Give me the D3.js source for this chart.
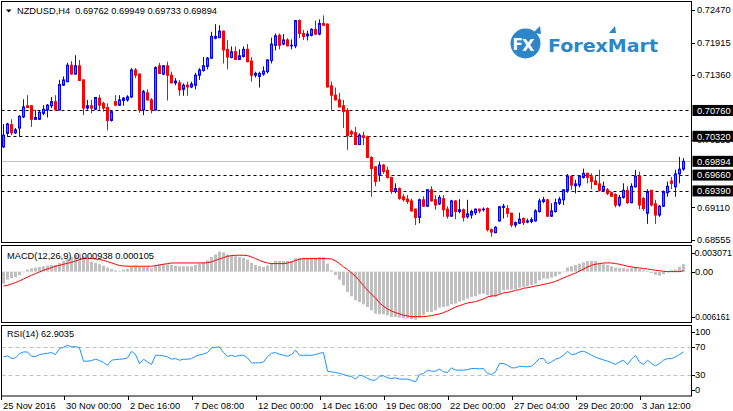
<!DOCTYPE html>
<html><head><meta charset="utf-8">
<script src="https://cdn.jsdelivr.net/npm/d3@7"></script>
<style>html,body{margin:0;padding:0;background:#fff;}svg{display:block;}</style>
</head><body>
<script>
// ---------------- DATA ----------------
const chartTitle = "NZDUSD,H4";
const titleValues = "0.69762 0.69949 0.69733 0.69894";
const macdTitle = "MACD(12,26,9) 0.000938 0.000105";
const rsiTitle = "RSI(14) 62.9035";

const open = [
0.7014,0.7037,0.7052,0.7038,0.7046,0.7065,0.7084,0.7084,0.7061,0.7061,
0.7071,0.7077,0.7084,0.7091,0.7077,0.7119,0.7125,0.7153,0.7138,0.7152,
0.7128,0.7080,0.7084,0.7078,0.7097,0.7088,0.7081,0.7059,0.7091,0.7085,
0.7093,0.7094,0.7099,0.7145,0.7138,0.7077,0.7106,0.7094,0.7077,0.7152,
0.7138,0.7152,0.7136,0.7123,0.7123,0.7112,0.7119,0.7116,0.7119,0.7136,
0.7144,0.7151,0.7165,0.7199,0.7200,0.7211,0.7180,0.7166,0.7176,0.7163,
0.7168,0.7180,0.7160,0.7136,0.7134,0.7138,0.7142,0.7161,0.7187,0.7204,
0.7189,0.7196,0.7186,0.7186,0.7229,0.7207,0.7203,0.7204,0.7214,0.7206,
0.7224,0.7223,0.7118,0.7102,0.7094,0.7084,0.7076,0.7040,0.7038,0.7018,
0.7033,0.7031,0.6996,0.6980,0.6966,0.6983,0.6974,0.6962,0.6938,0.6943,
0.6929,0.6925,0.6922,0.6908,0.6894,0.6924,0.6913,0.6941,0.6924,0.6917,
0.6926,0.6908,0.6896,0.6922,0.6904,0.6907,0.6895,0.6898,0.6902,0.6908,
0.6907,0.6909,0.6873,0.6868,0.6888,0.6911,0.6909,0.6901,0.6881,0.6884,
0.6892,0.6886,0.6887,0.6888,0.6904,0.6921,0.6924,0.6896,0.6904,0.6918,
0.6924,0.6940,0.6964,0.6948,0.6949,0.6962,0.6969,0.6963,0.6956,0.6951,
0.6940,0.6941,0.6936,0.6933,0.6915,0.6928,0.6940,0.6919,0.6946,0.6964,
0.6926,0.6901,0.6940,0.6917,0.6898,0.6913,0.6936,0.6956,0.6946,0.6968,
0.69762];
const high = [
0.7053,0.7055,0.7061,0.7046,0.7068,0.7095,0.7102,0.7085,0.7077,0.7075,
0.7085,0.7087,0.7099,0.7102,0.7128,0.7134,0.7157,0.7160,0.7170,0.7162,
0.7129,0.7094,0.7094,0.7099,0.7103,0.7091,0.7088,0.7075,0.7102,0.7102,
0.7099,0.7102,0.7148,0.7148,0.7139,0.7111,0.7112,0.7097,0.7151,0.7157,
0.7153,0.7159,0.7142,0.7131,0.7128,0.7122,0.7125,0.7125,0.7140,0.7148,
0.7167,0.7167,0.7210,0.7223,0.7221,0.7212,0.7196,0.7185,0.7185,0.7180,
0.7185,0.7189,0.7167,0.7142,0.7142,0.7151,0.7163,0.7200,0.7207,0.7207,
0.7206,0.7199,0.7197,0.7230,0.7231,0.7213,0.7212,0.7216,0.7229,0.7231,
0.7238,0.7224,0.7125,0.7115,0.7106,0.7094,0.7080,0.7043,0.7048,0.7037,
0.7040,0.7033,0.6998,0.6981,0.6989,0.6985,0.6980,0.6963,0.6952,0.6945,
0.6934,0.6932,0.6926,0.6909,0.6926,0.6930,0.6942,0.6947,0.6932,0.6932,
0.6932,0.6913,0.6924,0.6923,0.6925,0.6909,0.6924,0.6907,0.6909,0.6909,
0.6911,0.6911,0.6875,0.6879,0.6913,0.6917,0.6915,0.6902,0.6887,0.6902,
0.6894,0.6892,0.6894,0.6908,0.6926,0.6929,0.6925,0.6918,0.6926,0.6929,
0.6942,0.6968,0.6965,0.6958,0.6966,0.6977,0.6970,0.6969,0.6966,0.6975,
0.6955,0.6944,0.6938,0.6935,0.6932,0.6952,0.6947,0.6952,0.6975,0.6972,
0.6929,0.6942,0.6941,0.6924,0.6915,0.6940,0.6955,0.6963,0.6975,0.6997,
0.69949];
const low = [
0.7012,0.7031,0.7034,0.7036,0.7031,0.7063,0.7080,0.7048,0.7060,0.7060,
0.7068,0.7064,0.7080,0.7076,0.7076,0.7118,0.7124,0.7137,0.7137,0.7127,
0.7068,0.7077,0.7071,0.7077,0.7077,0.7074,0.7042,0.7057,0.7084,0.7084,
0.7084,0.7091,0.7097,0.7131,0.7072,0.7068,0.7093,0.7071,0.7076,0.7138,
0.7136,0.7093,0.7122,0.7119,0.7101,0.7101,0.7101,0.7114,0.7112,0.7128,
0.7142,0.7146,0.7164,0.7197,0.7199,0.7156,0.7146,0.7165,0.7162,0.7162,
0.7166,0.7158,0.7125,0.7132,0.7115,0.7135,0.7139,0.7156,0.7178,0.7180,
0.7187,0.7185,0.7180,0.7182,0.7199,0.7196,0.7195,0.7202,0.7204,0.7204,
0.7220,0.7115,0.7076,0.7093,0.7081,0.7046,0.7009,0.7031,0.7017,0.7017,
0.7017,0.6995,0.6929,0.6947,0.6955,0.6968,0.6960,0.6934,0.6935,0.6924,
0.6921,0.6917,0.6904,0.6881,0.6884,0.6912,0.6912,0.6921,0.6907,0.6915,
0.6895,0.6892,0.6895,0.6891,0.6901,0.6887,0.6892,0.6892,0.6898,0.6901,
0.6904,0.6870,0.6861,0.6867,0.6887,0.6892,0.6894,0.6877,0.6877,0.6883,
0.6881,0.6884,0.6884,0.6887,0.6902,0.6918,0.6895,0.6895,0.6902,0.6915,
0.6915,0.6936,0.6941,0.6935,0.6945,0.6960,0.6952,0.6942,0.6949,0.6938,
0.6938,0.6932,0.6929,0.6911,0.6912,0.6926,0.6917,0.6918,0.6945,0.6908,
0.6905,0.6883,0.6913,0.6883,0.6895,0.6912,0.6929,0.6942,0.6929,0.6952,
0.69733];
const close = [
0.7034,0.7053,0.7038,0.7043,0.7066,0.7082,0.7081,0.7061,0.7064,0.7073,
0.7078,0.7085,0.7091,0.7077,0.7120,0.7128,0.7153,0.7138,0.7152,0.7127,
0.7080,0.7084,0.7080,0.7098,0.7085,0.7080,0.7059,0.7074,0.7085,0.7094,
0.7097,0.7099,0.7145,0.7136,0.7077,0.7108,0.7094,0.7077,0.7149,0.7139,
0.7152,0.7136,0.7123,0.7126,0.7111,0.7119,0.7116,0.7121,0.7136,0.7145,
0.7152,0.7165,0.7202,0.7202,0.7211,0.7179,0.7167,0.7176,0.7163,0.7169,
0.7180,0.7159,0.7136,0.7139,0.7139,0.7143,0.7162,0.7189,0.7203,0.7187,
0.7196,0.7186,0.7187,0.7229,0.7207,0.7202,0.7206,0.7214,0.7206,0.7224,
0.7221,0.7116,0.7102,0.7094,0.7082,0.7074,0.7033,0.7036,0.7018,0.7034,
0.7030,0.6996,0.6977,0.6955,0.6983,0.6972,0.6962,0.6938,0.6943,0.6926,
0.6924,0.6921,0.6905,0.6894,0.6924,0.6913,0.6941,0.6922,0.6915,0.6928,
0.6907,0.6896,0.6922,0.6904,0.6907,0.6894,0.6900,0.6904,0.6908,0.6905,
0.6908,0.6873,0.6869,0.6877,0.6912,0.6913,0.6901,0.6881,0.6885,0.6891,
0.6885,0.6888,0.6890,0.6905,0.6922,0.6924,0.6896,0.6905,0.6919,0.6925,
0.6941,0.6964,0.6949,0.6951,0.6964,0.6969,0.6962,0.6955,0.6950,0.6940,
0.6947,0.6935,0.6930,0.6915,0.6928,0.6940,0.6919,0.6947,0.6964,0.6915,
0.6909,0.6938,0.6915,0.6898,0.6913,0.6938,0.6947,0.6952,0.6968,0.6976,
0.69894];

const macdMain = [
-0.00150,-0.00100,-0.00083,-0.00067,-0.00042,-0.00008,0.00025,0.00042,0.00050,0.00058,
0.00067,0.00075,0.00083,0.00083,0.00108,0.00133,0.00166,0.00183,0.00208,0.00225,
0.00191,0.00158,0.00125,0.00108,0.00092,0.00075,0.00050,0.00033,0.00017,0.00008,
0.00025,0.00033,0.00058,0.00075,0.00058,0.00058,0.00058,0.00042,0.00075,0.00092,
0.00092,0.00092,0.00083,0.00075,0.00067,0.00067,0.00067,0.00067,0.00083,0.00100,
0.00116,0.00141,0.00183,0.00216,0.00250,0.00241,0.00216,0.00208,0.00191,0.00183,
0.00175,0.00150,0.00108,0.00083,0.00067,0.00058,0.00075,0.00108,0.00133,0.00133,
0.00133,0.00133,0.00133,0.00166,0.00175,0.00175,0.00166,0.00175,0.00175,0.00183,
0.00183,0.00100,0.00017,-0.00042,-0.00100,-0.00171,-0.00254,-0.00308,-0.00358,-0.00383,
-0.00408,-0.00441,-0.00483,-0.00524,-0.00532,-0.00532,-0.00545,-0.00566,-0.00566,-0.00574,
-0.00582,-0.00582,-0.00591,-0.00599,-0.00574,-0.00545,-0.00503,-0.00503,-0.00483,-0.00449,
-0.00441,-0.00433,-0.00408,-0.00399,-0.00374,-0.00358,-0.00337,-0.00316,-0.00308,-0.00283,
-0.00275,-0.00295,-0.00316,-0.00316,-0.00275,-0.00233,-0.00225,-0.00225,-0.00216,-0.00200,
-0.00191,-0.00183,-0.00166,-0.00150,-0.00108,-0.00087,-0.00087,-0.00075,-0.00058,-0.00033,
-0.00008,0.00050,0.00067,0.00083,0.00100,0.00116,0.00133,0.00133,0.00133,0.00108,
0.00092,0.00083,0.00067,0.00050,0.00042,0.00042,0.00033,0.00042,0.00050,0.00033,
0.00017,0.00008,-0.00017,-0.00042,-0.00050,-0.00033,-0.00008,0.00017,0.00025,0.00060,
0.000938];
const macdSignal = [
-0.00179,-0.00171,-0.00154,-0.00137,-0.00116,-0.00092,-0.00067,-0.00046,-0.00025,-0.00004,
0.00017,0.00033,0.00050,0.00067,0.00079,0.00092,0.00104,0.00116,0.00133,0.00150,
0.00162,0.00166,0.00162,0.00158,0.00150,0.00141,0.00125,0.00108,0.00092,0.00075,
0.00071,0.00067,0.00067,0.00067,0.00067,0.00067,0.00067,0.00067,0.00075,0.00083,
0.00092,0.00100,0.00108,0.00108,0.00108,0.00108,0.00108,0.00108,0.00108,0.00108,
0.00108,0.00112,0.00121,0.00141,0.00158,0.00175,0.00191,0.00200,0.00204,0.00204,
0.00204,0.00200,0.00183,0.00162,0.00141,0.00121,0.00108,0.00100,0.00100,0.00100,
0.00100,0.00108,0.00121,0.00141,0.00154,0.00162,0.00162,0.00162,0.00162,0.00162,
0.00162,0.00162,0.00158,0.00133,0.00100,0.00058,0.00025,-0.00017,-0.00058,-0.00116,
-0.00175,-0.00233,-0.00283,-0.00329,-0.00391,-0.00433,-0.00466,-0.00491,-0.00512,-0.00528,
-0.00545,-0.00553,-0.00562,-0.00562,-0.00562,-0.00562,-0.00557,-0.00549,-0.00537,-0.00528,
-0.00512,-0.00491,-0.00466,-0.00441,-0.00424,-0.00408,-0.00391,-0.00383,-0.00374,-0.00358,
-0.00341,-0.00316,-0.00304,-0.00300,-0.00283,-0.00266,-0.00258,-0.00250,-0.00233,-0.00225,
-0.00208,-0.00200,-0.00191,-0.00179,-0.00171,-0.00158,-0.00150,-0.00137,-0.00121,-0.00100,
-0.00079,-0.00058,-0.00037,-0.00017,0.00008,0.00033,0.00058,0.00079,0.00092,0.00100,
0.00108,0.00108,0.00108,0.00100,0.00092,0.00079,0.00067,0.00058,0.00050,0.00046,
0.00037,0.00033,0.00025,0.00017,0.00012,0.00004,0.00000,0.00000,0.00000,0.00000,
0.000105];
const rsi = [
55.9,57.3,53.5,54.5,60.6,62.9,62.9,56.8,56.4,59.2,
60.1,61.1,62.0,59.2,67.6,69.5,72.4,70.0,70.5,68.6,
49.8,49.8,50.7,52.6,50.7,47.9,44.1,51.2,52.1,52.6,
53.1,54.5,63.9,59.2,46.5,52.6,48.8,45.1,58.2,58.2,
57.3,55.9,52.6,53.5,51.2,52.6,52.6,53.5,56.8,58.7,
60.1,62.0,68.6,69.5,70.0,62.0,56.4,58.2,56.4,58.2,
58.2,54.5,47.4,47.4,47.4,48.8,56.4,61.1,62.0,59.6,
58.2,56.8,59.2,65.3,58.2,58.2,58.2,58.2,59.2,61.1,
62.0,35.6,34.7,33.8,32.4,30.9,29.1,28.1,24.4,30.0,
28.6,25.3,22.9,22.9,28.6,29.1,26.2,25.3,26.2,24.4,
24.4,24.4,22.5,20.6,30.9,32.4,37.1,35.6,35.6,38.5,
34.7,33.8,40.4,37.1,37.1,37.1,38.0,39.4,39.4,38.9,
39.4,32.4,30.9,34.7,46.5,46.5,44.1,40.4,40.4,42.7,
42.2,41.8,42.7,47.9,53.5,53.5,46.5,48.8,52.6,54.5,
58.2,63.9,59.2,60.1,62.9,63.9,61.5,58.2,55.4,53.5,
51.6,49.8,47.9,45.1,48.8,51.2,45.1,52.6,58.2,48.8,
45.1,51.2,46.5,43.2,46.5,51.2,53.5,53.5,55.9,59.2,
62.9035];

const priceTicks = [0.72470,0.71915,0.71360,0.70255,0.69110,0.68555];
const levelLines = [0.70760,0.70320,0.69660,0.69390];
const bidLine = 0.69894;
const macdTicks = [0.003071,0,-0.006161];
const macdTickLabels = ["0.003071","0.00","-0.006161"];
const rsiTicks = [100,70,30,0];
const rsiLevels = [70,30];
const timeLabels = ["25 Nov 2016","30 Nov 00:00","2 Dec 16:00","7 Dec 08:00","12 Dec 00:00","14 Dec 16:00","19 Dec 08:00","22 Dec 00:00","27 Dec 04:00","29 Dec 20:00","3 Jan 12:00"];
const timeLabelBars = [0,15,31,47,63,79,95,111,127,143,159];

// ---------------- LAYOUT ----------------
const W = 733, H = 411;
const FONT = "'Liberation Sans', Arial, sans-serif";
const FS = 9.3;
const pL = 1.5, pR = 691.5;
const mainP = {top:1.5, bottom:242.5};
const macdP = {top:245.5, bottom:322.5};
const rsiP = {top:325.5, bottom:396};

const svg = d3.select("body").append("svg").attr("width",W).attr("height",H)
  .style("font-family",FONT);
svg.append("rect").attr("width",W).attr("height",H).attr("fill","#fff");

const n = close.length;
const idx = d3.range(n);
const x = d3.scaleLinear().domain([0, n-1]).range([2.7, 682.7]);
const cx = i => Math.round(x(i)) + 0.5;
const yP = d3.scaleLinear().domain([0.68555,0.72470]).range([240,10]);
const yM = d3.scaleLinear().domain([-0.006161,0.003071]).range([321,247]);
const yR = d3.scaleLinear().domain([0,100]).range([396.3,325.8]);

const defs = svg.append("defs");
function clip(id,p){defs.append("clipPath").attr("id",id).append("rect")
  .attr("x",pL).attr("y",p.top).attr("width",pR-pL).attr("height",p.bottom-p.top);}
clip("cMain",mainP); clip("cMacd",macdP); clip("cRsi",rsiP);

// ---------------- LOGO ----------------
const logo = svg.append("g");
logo.append("circle").attr("cx",525.5).attr("cy",43.5).attr("r",15).attr("fill","#2d86c8");
logo.append("text").attr("x",512.5).attr("y",50).attr("fill","#fff")
  .style("font-family","'DejaVu Sans', sans-serif").style("font-weight","bold").style("font-size","15px").text("F");
logo.append("text").attr("x",522).attr("y",51).attr("fill","#fff")
  .style("font-family","'DejaVu Sans', sans-serif").style("font-weight","bold").style("font-size","16px").text("X");
logo.append("path").attr("d","M533,33 L540,26 L541,34 Z").attr("fill","#2d86c8");
logo.append("text").attr("x",548).attr("y",51.5).attr("fill","#2d86c8")
  .attr("textLength",110).attr("lengthAdjust","spacingAndGlyphs")
  .style("font-family","'DejaVu Sans', sans-serif").style("font-weight","bold").style("font-size","18.5px").text("ForexMart");
logo.append("path").attr("d","M609,33 L615,26 L616,33 Z").attr("fill","#2d86c8");

// ---------------- MAIN PANEL ----------------
const gMain = svg.append("g").attr("clip-path","url(#cMain)");
gMain.selectAll("line.lvl").data(levelLines).join("line").attr("class","lvl")
  .attr("x1",pL).attr("x2",pR).attr("y1",d=>Math.round(yP(d))+0.5).attr("y2",d=>Math.round(yP(d))+0.5)
  .attr("stroke","#000").attr("stroke-dasharray","3,3");
gMain.append("line").attr("x1",pL).attr("x2",pR)
  .attr("y1",Math.round(yP(bidLine))+0.5).attr("y2",Math.round(yP(bidLine))+0.5).attr("stroke","#c0c0c0");

const bull = i => close[i] >= open[i];
gMain.selectAll("line.wick").data(idx).join("line").attr("class","wick")
  .attr("x1",cx).attr("x2",cx).attr("y1",i=>yP(high[i])).attr("y2",i=>yP(low[i]))
  .attr("stroke",i=>bull(i)?"#0000ff":"#ff0000");
gMain.selectAll("rect.body").data(idx).join("rect").attr("class","body")
  .attr("x",i=>cx(i)-1).attr("width",2)
  .attr("y",i=>yP(Math.max(open[i],close[i])))
  .attr("height",i=>Math.max(0.5, yP(Math.min(open[i],close[i]))-yP(Math.max(open[i],close[i]))))
  .attr("fill",i=>bull(i)?"#3d7dff":"#ff0000")
  .attr("stroke",i=>bull(i)?"#0000ff":"#ff0000").attr("stroke-width",1);

// title
svg.append("path").attr("d","M6,9.5 L11.5,9.5 L8.75,12.5 Z").attr("fill","#000");
svg.append("text").attr("x",17).attr("y",14).style("font-size",FS+"px").style("white-space","pre")
  .attr("textLength",200).attr("lengthAdjust","spacingAndGlyphs")
  .attr("fill","#000").text(chartTitle + "  " + titleValues);

// ---------------- MACD PANEL ----------------
const gMacd = svg.append("g").attr("clip-path","url(#cMacd)");
gMacd.selectAll("rect.hist").data(idx).join("rect").attr("class","hist")
  .attr("x",i=>cx(i)-1.5).attr("width",3)
  .attr("y",i=>Math.min(yM(0),yM(macdMain[i])))
  .attr("height",i=>Math.abs(yM(macdMain[i])-yM(0)))
  .attr("fill","#c0c0c0");
svg.append("text").attr("x",7).attr("y",258.5).style("font-size",FS+"px")
  .attr("textLength",147).attr("lengthAdjust","spacingAndGlyphs")
  .attr("fill","#000").text(macdTitle);
gMacd.append("path").datum(idx)
  .attr("d",d3.line().x(cx).y(i=>yM(macdSignal[i])))
  .attr("fill","none").attr("stroke","#ff0000").attr("stroke-width",1);

// ---------------- RSI PANEL ----------------
const gRsi = svg.append("g").attr("clip-path","url(#cRsi)");
gRsi.selectAll("line.rl").data(rsiLevels).join("line").attr("class","rl")
  .attr("x1",pL).attr("x2",pR).attr("y1",d=>Math.round(yR(d))+0.5).attr("y2",d=>Math.round(yR(d))+0.5)
  .attr("stroke","#c0c0c0").attr("stroke-dasharray","4,3");
gRsi.append("path").datum(idx)
  .attr("d",d3.line().x(cx).y(i=>yR(rsi[i])))
  .attr("fill","none").attr("stroke","#1e90ff").attr("stroke-width",1);
svg.append("text").attr("x",7).attr("y",337).style("font-size",FS+"px")
  .attr("textLength",67).attr("lengthAdjust","spacingAndGlyphs")
  .attr("fill","#000").text(rsiTitle);

// ---------------- FRAMES ----------------
[mainP,macdP,rsiP].forEach(p=>{
  svg.append("rect").attr("x",pL).attr("y",p.top).attr("width",pR-pL).attr("height",p.bottom-p.top)
    .attr("fill","none").attr("stroke","#000");
});

// ---------------- RIGHT AXES ----------------
const ax = svg.append("g").style("font-size",FS+"px");
function rightLabel(y, txt, tx, fitW){
  ax.append("line").attr("x1",pR).attr("x2",pR+3.5).attr("y1",Math.round(y)+0.5).attr("y2",Math.round(y)+0.5).attr("stroke","#000");
  const t = ax.append("text").attr("x",tx||697).attr("y",y).attr("dy","0.35em").attr("fill","#000").text(txt);
  if (fitW) t.attr("textLength",fitW).attr("lengthAdjust","spacingAndGlyphs");
  return t;
}
// partially hidden label: only its lower part shows below the 0.70320 box
defs.append("clipPath").attr("id","cHidden").append("rect")
  .attr("x",692).attr("y",yP(0.70320)+5.5).attr("width",41).attr("height",12);
priceTicks.forEach(v=>{
  const t = rightLabel(yP(v), v.toFixed(5));
  if (Math.abs(yP(v)-yP(0.70320)) < 8) t.attr("clip-path","url(#cHidden)");
});
[...levelLines, bidLine].forEach(v=>{
  const y = yP(v);
  ax.append("rect").attr("x",692.5).attr("y",y-5.5).attr("width",41).attr("height",11).attr("fill","#000");
  ax.append("text").attr("x",697).attr("y",y).attr("dy","0.35em").attr("fill","#fff").text(v.toFixed(5));
});
macdTicks.forEach((v,k)=>{
  const y = Math.max(macdP.top+7.5, Math.min(macdP.bottom-6, yM(v)));
  if (k===0) rightLabel(y, macdTickLabels[k], 694.5, 37.5);
  else if (v<0) rightLabel(y, macdTickLabels[k], 692.5, 37.5);
  else rightLabel(y, macdTickLabels[k], 695);
});
rsiTicks.forEach(v=>{
  const y = Math.max(rsiP.top+6.5, Math.min(rsiP.bottom-6.5, yR(v)));
  rightLabel(y, String(v), 695);
});

// ---------------- TIME AXIS ----------------
timeLabels.forEach((t,k)=>{
  const tx = k===0 ? 1.5 : Math.round(x(timeLabelBars[k])+1.5)+0.5;
  ax.append("line").attr("x1",tx).attr("x2",tx).attr("y1",rsiP.bottom).attr("y2",rsiP.bottom+4).attr("stroke","#000");
  ax.append("text").attr("x",tx+1.5).attr("y",409).attr("fill","#000").text(t);
});
</script>
</body></html>
